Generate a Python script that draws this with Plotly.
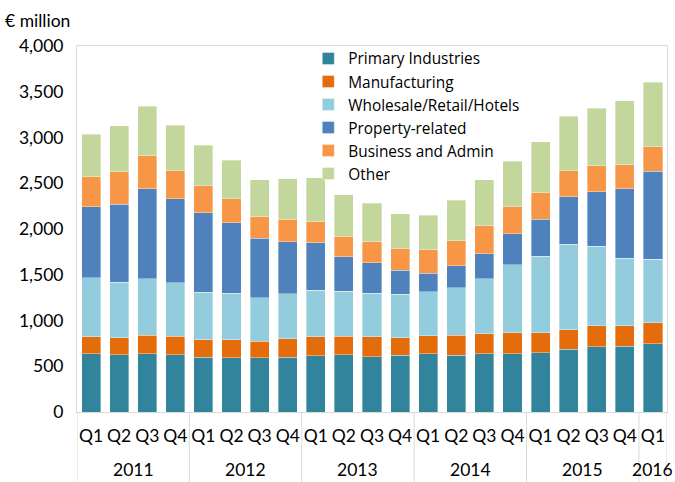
import plotly.graph_objects as go

years = ["2011"] * 4 + ["2012"] * 4 + ["2013"] * 4 + ["2014"] * 4 + ["2015"] * 4 + ["2016"]
quarters = ["Q1", "Q2", "Q3", "Q4"] * 5 + ["Q1"]
year_labels = ["2011", "2012", "2013", "2014", "2015", "2016"]

# segment values (€ million)
primary = [637, 626, 637, 626, 597, 594, 594, 597, 616, 626, 605, 623, 634, 623, 637, 637, 648, 685, 714, 721, 746]
manufacturing = [186, 186, 204, 201, 193, 193, 178, 204, 207, 201, 218, 189, 200, 218, 219, 230, 219, 215, 229, 222, 227]
wholesale = [645, 605, 616, 583, 518, 510, 477, 489, 510, 495, 477, 474, 481, 518, 598, 740, 834, 933, 871, 740, 696]
property_rel = [776, 853, 984, 921, 867, 772, 649, 568, 518, 376, 332, 262, 200, 240, 276, 342, 405, 520, 594, 758, 962]
business = [328, 356, 361, 306, 299, 262, 237, 251, 229, 222, 229, 244, 259, 273, 306, 295, 291, 284, 284, 262, 269]
other = [463, 503, 542, 496, 440, 419, 401, 441, 481, 452, 420, 375, 376, 442, 500, 499, 554, 598, 630, 696, 703]

series = [
    ("Primary Industries", primary, "#31849B"),
    ("Manufacturing", manufacturing, "#E46C0A"),
    ("Wholesale/Retail/Hotels", wholesale, "#93CDDD"),
    ("Property-related", property_rel, "#4F81BD"),
    ("Business and Admin", business, "#F79646"),
    ("Other", other, "#C3D69B"),
]

FONT = "Lato, 'Open Sans', sans-serif"
LEGEND_FONT = "'Open Sans', Lato, sans-serif"
FS = 17.5
cats = [f"{y} {q}" for y, q in zip(years, quarters)]

fig = go.Figure()
for name, vals, color in series:
    fig.add_trace(go.Bar(
        x=cats,
        y=vals,
        name=name,
        marker=dict(color=color, line=dict(color="rgba(255,255,255,0.6)", width=0.6)),
    ))

# year group labels and dividers, positioned on the category axis
annotations = [
    dict(text="€ million", xref="paper", yref="paper", x=-0.1254, y=1.071,
         xanchor="left", yanchor="middle", showarrow=False,
         font=dict(family=FONT, size=FS, color="#000000")),
]
shapes = []
idx = 0
bounds = [-0.5]
for yl in year_labels:
    n = years.count(yl)
    center = idx + (n - 1) / 2
    annotations.append(dict(text=yl, xref="x", yref="paper", x=center, y=-0.156,
                            xanchor="center", yanchor="middle", showarrow=False,
                            font=dict(family=FONT, size=FS, color="#000000")))
    idx += n
    bounds.append(idx - 0.5)
for b in bounds:
    shapes.append(dict(type="line", xref="x", yref="paper", x0=b, x1=b, y0=0, y1=-0.195,
                       line=dict(color="#D9D9D9", width=1)))

fig.update_layout(
    barmode="stack",
    bargap=0.32,
    width=675,
    height=482,
    margin=dict(l=77, r=8, t=46, b=70),
    paper_bgcolor="white",
    plot_bgcolor="white",
    font=dict(family=FONT, size=FS, color="#000000"),
    legend=dict(
        x=0.392, y=1.011, xanchor="left", yanchor="top",
        traceorder="normal",
        font=dict(family=LEGEND_FONT, size=15.4, color="#000000"),
        bgcolor="rgba(0,0,0,0)",
        itemwidth=30,
        tracegroupgap=0,
    ),
    showlegend=True,
    annotations=annotations,
    shapes=shapes,
)

fig.update_yaxes(
    range=[0, 4000],
    dtick=500,
    tickformat=",",
    showgrid=False,
    zeroline=False,
    showline=True,
    linecolor="#D9D9D9",
    linewidth=1,
    mirror=True,
    ticks="",
    automargin=False,
    tickfont=dict(family=FONT, size=FS, color="#000000"),
    ticklabelstandoff=9,
)
fig.update_xaxes(
    type="category",
    tickmode="array",
    tickvals=cats,
    ticktext=quarters,
    showgrid=False,
    showline=True,
    linecolor="#D9D9D9",
    linewidth=1,
    mirror=True,
    ticks="",
    tickangle=0,
    automargin=False,
    range=[-0.5, len(cats) - 0.5],
    tickfont=dict(family=FONT, size=FS, color="#000000"),
    ticklabelstandoff=8,
)

fig.write_html("out.html", config={"displayModeBar": False},
               post_script="document.body.style.margin='0';document.body.style.overflow='hidden';")
